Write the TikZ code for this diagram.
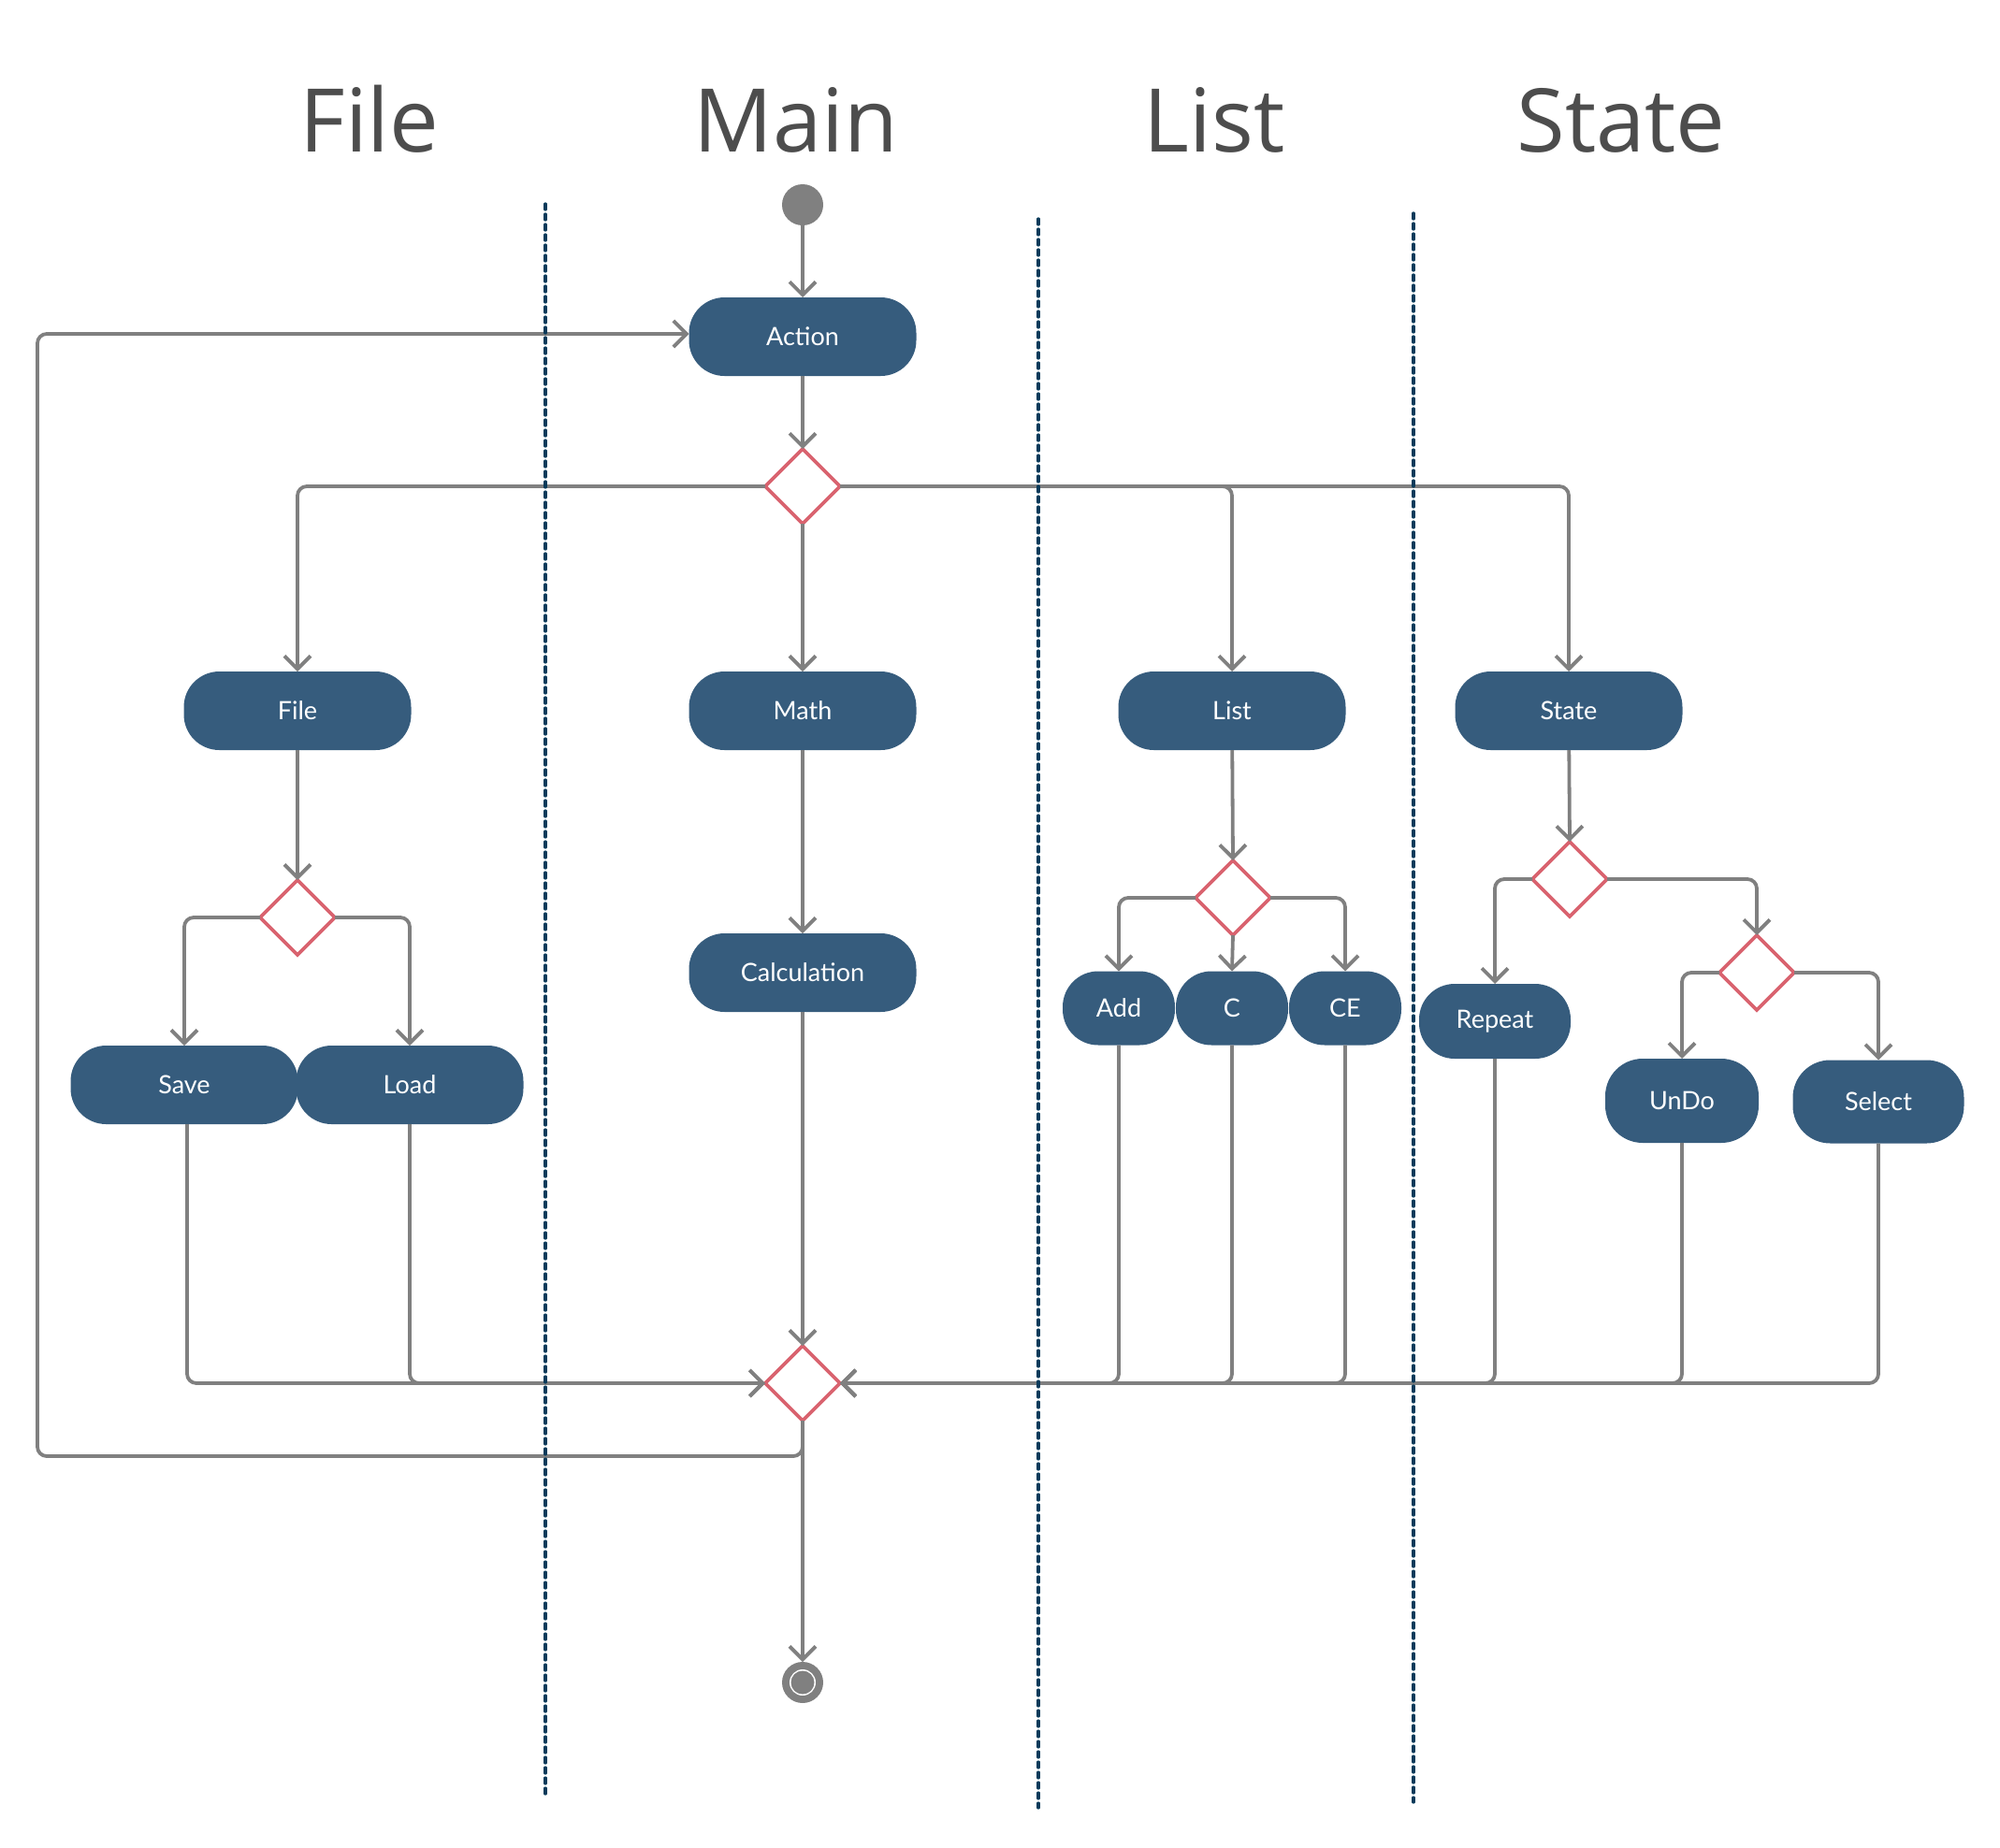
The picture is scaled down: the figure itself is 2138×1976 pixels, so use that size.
\documentclass[tikz,border=0pt]{standalone}
\usepackage{fontspec}
\newfontfamily\lato{Lato}
\newfontfamily\opensans{Open Sans}
\usetikzlibrary{arrows.meta,shapes.geometric}
\definecolor{nodeblue}{RGB}{54,92,125}
\definecolor{decred}{RGB}{217,99,111}
\definecolor{linegray}{RGB}{128,128,128}
\definecolor{lanenavy}{RGB}{8,58,90}
\definecolor{headgray}{RGB}{77,77,77}
\tikzset{
  act/.style={fill=nodeblue, rounded corners=19pt, minimum width=121.5pt, minimum height=42pt,
    text=white, font=\lato\fontsize{13.5}{16}\selectfont, inner sep=0pt, outer sep=0pt},
  dec/.style={diamond, draw=decred, fill=white, line width=1.8pt, minimum width=40pt,
    minimum height=40pt, inner sep=0pt, outer sep=0pt},
  flow/.style={draw=linegray, line width=1.9pt, rounded corners=5pt,
    -{Straight Barb[length=7pt,width=14pt]}},
  lane/.style={draw=lanenavy, line width=1.6pt, line cap=round, dash pattern=on 3pt off 2.5pt},
  head/.style={text=headgray, font=\opensans\fontsize{47}{56}\selectfont, anchor=base, inner sep=0pt}
}
\begin{document}
\begin{tikzpicture}[x=0.5pt, y=-0.5pt]
\useasboundingbox[fill=white] (0,0) rectangle (2138,1976);

% lane titles
\node[head] (hFile)  at (395,162)  {File};
\node[head] (hMain)  at (851,162)  {Main};
\node[head] (hList)  at (1298,162) {List};
\node[head] (hState) at (1733,162) {State};

% initial and final states
\node[circle, fill=linegray, minimum size=22pt, inner sep=0pt, outer sep=0pt] (start) at (858,219) {};
\node[circle, fill=linegray, minimum size=22pt, inner sep=0pt, outer sep=0pt] (end) at (858,1799) {};
\fill[white] (end.center) circle (7pt);
\fill[linegray] (end.center) circle (6.25pt);

% Main lane
\node[act] (action) at (858,360)  {Action};
\node[dec] (d1)     at (858,520)  {};
\node[act] (math)   at (858,760)  {Math};
\node[act] (calc)   at (858,1040) {Calculation};
\node[dec] (merge)  at (858,1479) {};

% File lane
\node[act] (file) at (318,760)  {File};
\node[dec] (fd)   at (318,981)  {};
\node[act] (save) at (197,1160) {Save};
\node[act] (load) at (438,1160) {Load};

% List lane
\node[act] (list) at (1317,760) {List};
\node[dec] (ld)   at (1318,960) {};
\node[act, minimum width=60pt, minimum height=39.5pt] (add) at (1196,1078) {Add};
\node[act, minimum width=60pt, minimum height=39.5pt] (c)   at (1317,1078) {C};
\node[act, minimum width=60pt, minimum height=39.5pt] (ce)  at (1438,1078) {CE};

% State lane
\node[act] (state) at (1677,760) {State};
\node[dec] (sd)    at (1678,940) {};
\node[act, minimum width=81pt, minimum height=40pt] (repeat) at (1598,1092) {Repeat};
\node[dec] (sd2)   at (1878,1040) {};
\node[act, minimum width=82pt, minimum height=45pt, rounded corners=20pt] (undo) at (1798,1177) {UnDo};
\node[act, minimum width=91.5pt, minimum height=44.5pt, rounded corners=20pt] (select) at (2008,1178) {Select};

% control flow
\draw[flow] (start) -- (action);
\draw[flow] (action) -- (d1.north);
\draw[flow] (d1.west) -| (file.north);
\draw[flow] (d1.south) -- (math.north);
\draw[flow] (d1.east) -| (list.north);
\draw[flow] (d1.east) -| (state.north);

\draw[flow] (file) -- (fd.north);
\draw[flow] (fd.west) -| (save.north);
\draw[flow] (fd.east) -| (load.north);

\draw[flow] (math) -- (calc);
\draw[flow] (calc) -- (merge.north);

\draw[flow] (list) -- (ld.north);
\draw[flow] (ld.west) -| (add.north);
\draw[flow] (ld.south) -- (c.north);
\draw[flow] (ld.east) -| (ce.north);

\draw[flow] (state) -- (sd.north);
\draw[flow] (sd.west) -| (repeat.north);
\draw[flow] (sd.east) -| (sd2.north);
\draw[flow] (sd2.west) -| (undo.north);
\draw[flow] (sd2.east) -| (select.north);

% joins into the merge node
\draw[flow] ([xshift=1.5pt]save.south) |- (merge.west);
\draw[flow] (load.south) |- (merge.west);
\draw[flow] (add.south) |- (merge.east);
\draw[flow] (c.south) |- (merge.east);
\draw[flow] (ce.south) |- (merge.east);
\draw[flow] (repeat.south) |- (merge.east);
\draw[flow] (undo.south) |- (merge.east);
\draw[flow] (select.south) |- (merge.east);

% loop back to Action and exit
\coordinate (loopcorner) at (40,1557);
\draw[flow] (merge.south) |- (loopcorner) |- ([yshift=1.5pt]action.west);
\draw[flow] (merge.south) -- (end);

% swimlane separators
\draw[lane] (583,218) -- (583,1919);
\draw[lane] (1110,234) -- (1110,1933);
\draw[lane] (1511,228) -- (1511,1927);
\end{tikzpicture}
\end{document}
